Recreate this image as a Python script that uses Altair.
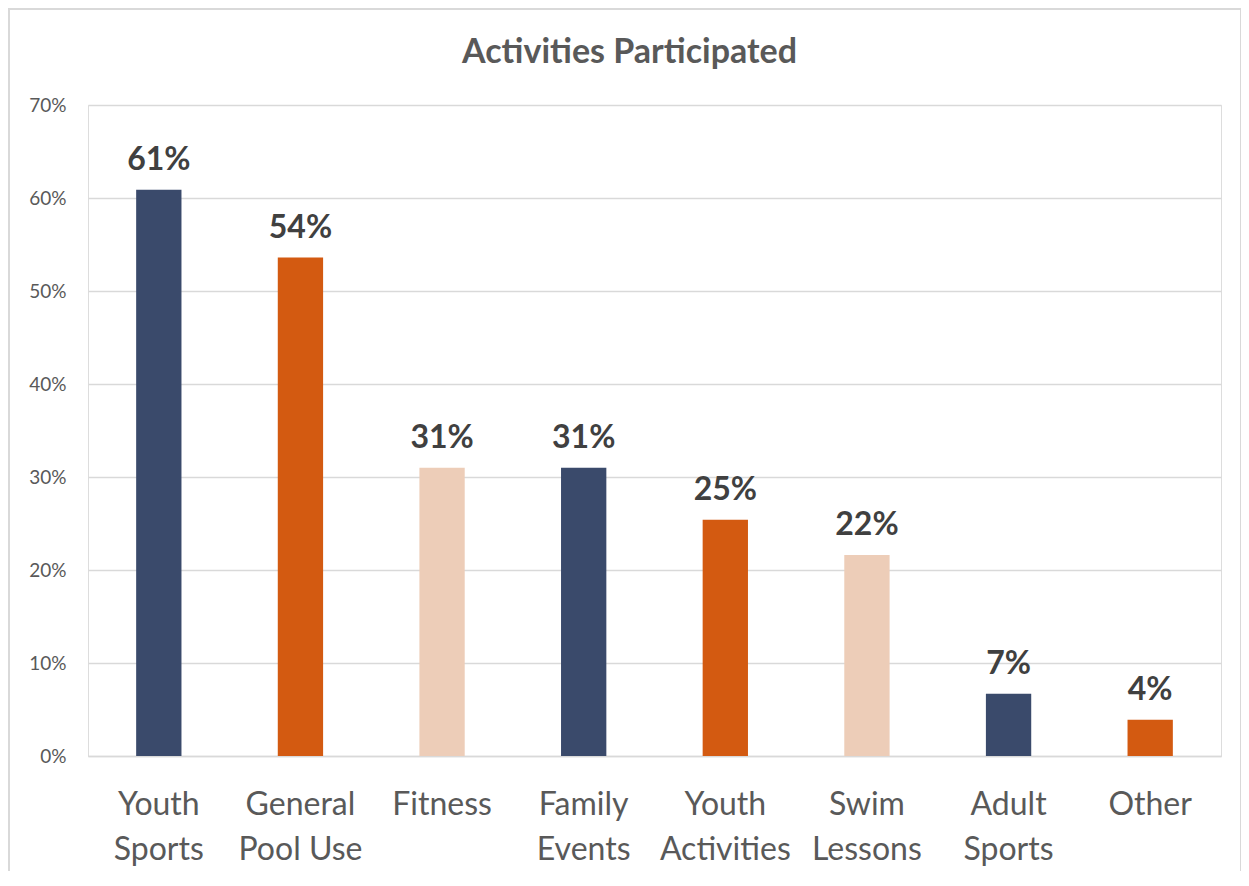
import altair as alt
import pandas as pd

categories = ["Youth Sports", "General Pool Use", "Fitness", "Family Events",
              "Youth Activities", "Swim Lessons", "Adult Sports", "Other"]
values = [0.609, 0.536, 0.310, 0.310, 0.254, 0.216, 0.067, 0.039]
bar_colors = ["#3A4A6B", "#D35A11", "#EDCDB8", "#3A4A6B",
              "#D35A11", "#EDCDB8", "#3A4A6B", "#D35A11"]
y_ticks = [0, 0.1, 0.2, 0.3, 0.4, 0.5, 0.6, 0.7]

df = pd.DataFrame({"category": categories, "value": values})

FONT = "Lato"

x = alt.X("category:N", sort=categories, title=None,
          scale=alt.Scale(paddingInner=0.68, paddingOuter=0.34),
          axis=alt.Axis(labelAngle=0, labelFontSize=32, labelColor="#595959",
                        labelFont=FONT, labelPadding=33, labelLineHeight=45,
                        labelBaseline="top",
                        labelExpr="datum.label == 'General Pool Use' ? ['General','Pool Use'] : split(datum.label, ' ')",
                        ticks=False, domainColor="#D9D9D9", domainWidth=1.5,
                        grid=False))
y = alt.Y("value:Q", title=None,
          scale=alt.Scale(domain=[0, 0.7], nice=False),
          axis=alt.Axis(values=y_ticks, format=".0%", labelFontSize=19,
                        labelColor="#595959", labelFont=FONT, labelPadding=22,
                        ticks=False, domain=False, gridColor="#D9D9D9",
                        gridWidth=1.5))

bars = alt.Chart(df).mark_bar().encode(
    x=x, y=y,
    color=alt.Color("category:N", scale=alt.Scale(domain=categories, range=bar_colors),
                    legend=None),
)

labels = alt.Chart(df).mark_text(
    baseline="alphabetic", dy=-20, fontSize=32, fontWeight="bold",
    font=FONT, color="#404040"
).encode(
    x=alt.X("category:N", sort=categories),
    y="value:Q",
    text=alt.Text("value:Q", format=".0%"),
)

frame = alt.Chart(df).mark_rect(fill=None, stroke="#D9D9D9", strokeWidth=1.5).encode(
    x=alt.value(-79), x2=alt.value(1153), y=alt.value(-96), y2=alt.value(774)
)

chart = alt.layer(frame, bars, labels).properties(
    width=1133, height=651,
    title=alt.TitleParams("Activities Participated", fontSize=34, font=FONT,
                          fontWeight="bold", color="#595959", offset=-62, dx=-25),
    autosize=alt.AutoSizeParams(type="none"),
    padding={"left": 80, "top": 97, "right": 20, "bottom": 115},
).configure_view(stroke=None).configure(background="white")

chart.save("out.html", embed_options={"renderer": "svg", "actions": False})
